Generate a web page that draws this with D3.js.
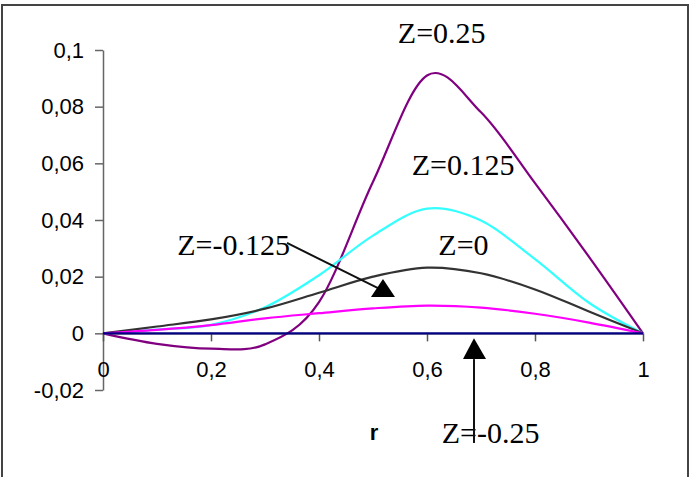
<!DOCTYPE html>
<html>
<head>
<meta charset="utf-8">
<script src="https://cdn.jsdelivr.net/npm/d3@7"></script>
<style>
  html, body { margin: 0; padding: 0; background: #fff; }
  svg { display: block; }
  .tick text { font-family: "Liberation Sans", Arial, sans-serif; font-size: 22px; fill: #000; }
  .zlabel { font-family: "Liberation Serif", "Times New Roman", serif; font-size: 30px; fill: #000; }
</style>
</head>
<body>
<svg id="chart" width="691" height="477"></svg>
<script>
// r positions of the computed points
const rValues = [0, 0.1, 0.2, 0.3, 0.4, 0.5, 0.6, 0.7, 0.8, 0.9, 1];
// one series per Z level
const zMinus025 = [0, 0, 0, 0, 0, 0, 0, 0, 0, 0, 0];
const zMinus0125 = [0, 0.0012, 0.0029, 0.0053, 0.0071, 0.0088, 0.0098, 0.0091, 0.0069, 0.0038, 0];
const z0 = [0, 0.0024, 0.0049, 0.0087, 0.0143, 0.0200, 0.0232, 0.0212, 0.0155, 0.0077, 0];
const z0125 = [0, 0.0013, 0.0030, 0.0092, 0.0205, 0.0345, 0.0440, 0.0398, 0.0262, 0.0108, 0];
const z025 = [0, -0.0037, -0.0054, -0.0039, 0.0110, 0.0535, 0.0910, 0.0780, 0.0530, 0.0270, 0];

const yTickValues = [-0.02, 0, 0.02, 0.04, 0.06, 0.08, 0.1];
const yTickLabels = ['-0,02', '0', '0,02', '0,04', '0,06', '0,08', '0,1'];
const xTickValues = [0, 0.2, 0.4, 0.6, 0.8, 1];
const xTickLabels = ['0', '0,2', '0,4', '0,6', '0,8', '1'];

const series = [
  {name: 'Z=-0.25', values: zMinus025, color: '#000080'},
  {name: 'Z=-0.125', values: zMinus0125, color: '#ff00ff'},
  {name: 'Z=0', values: z0, color: '#333333'},
  {name: 'Z=0.125', values: z0125, color: '#33ffff'},
  {name: 'Z=0.25', values: z025, color: '#800080'}
];

const svg = d3.select('#chart');

// outer frame (bottom edge runs past the picture)
svg.append('rect')
  .attr('x', 2).attr('y', 5)
  .attr('width', 686).attr('height', 490)
  .attr('fill', 'none')
  .attr('stroke', '#444')
  .attr('stroke-width', 2);

const x = d3.scaleLinear().domain([0, 1]).range([103, 643]);
const y = d3.scaleLinear().domain([-0.02, 0.1]).range([390, 50]);

// y axis
const yAxis = svg.append('g')
  .attr('transform', 'translate(' + x(0) + ',0)')
  .call(d3.axisLeft(y)
    .tickValues(yTickValues)
    .tickFormat((d, i) => yTickLabels[i])
    .tickSize(8)
    .tickSizeOuter(0)
    .tickPadding(11));
yAxis.select('.domain').attr('stroke', '#666').attr('stroke-width', 1.5);
yAxis.selectAll('.tick line').attr('stroke', '#666').attr('stroke-width', 1.5);

// x axis, crossing at 0
const xAxis = svg.append('g')
  .attr('transform', 'translate(0,' + y(0) + ')')
  .call(d3.axisBottom(x)
    .tickValues(xTickValues)
    .tickFormat((d, i) => xTickLabels[i])
    .tickSize(8)
    .tickSizeOuter(0)
    .tickPadding(20));
xAxis.select('.domain').attr('stroke', '#666').attr('stroke-width', 1.5);
xAxis.selectAll('.tick line').attr('stroke', '#555').attr('stroke-width', 1.5);

// axis title
svg.append('text')
  .attr('x', x(0.502))
  .attr('y', y(-0.0376))
  .attr('text-anchor', 'middle')
  .style('font-family', '"Liberation Sans", Arial, sans-serif')
  .style('font-size', '22px')
  .style('font-weight', 'bold')
  .text('r');

// smoothed lines (uniform spline, like the spreadsheet's smoothing)
const line = d3.line()
  .x((d, i) => x(rValues[i]))
  .y(d => y(d))
  .curve(d3.curveCatmullRom.alpha(0));

svg.append('g').selectAll('path')
  .data(series.slice().reverse())
  .enter().append('path')
  .attr('d', d => line(d.values))
  .attr('fill', 'none')
  .attr('stroke', d => d.color)
  .attr('stroke-width', 2.2);

// curve labels
const labels = [
  {text: 'Z=0.25', r: 0.546, v: 0.1025},
  {text: 'Z=0.125', r: 0.5717, v: 0.0559},
  {text: 'Z=0', r: 0.621, v: 0.0276},
  {text: 'Z=-0.125', r: 0.1376, v: 0.0276},
  {text: 'Z=-0.25', r: 0.6272, v: -0.0388}
];
svg.append('g').selectAll('text')
  .data(labels)
  .enter().append('text')
  .attr('class', 'zlabel')
  .attr('x', d => x(d.r))
  .attr('y', d => y(d.v))
  .text(d => d.text);

// arrows pointing at the Z=-0.125 and Z=-0.25 curves
const arrows = [
  {from: [0.3407, 0.0319], to: [0.513, 0.0156],
   head: [[0.5185, 0.0192], [0.4963, 0.0128], [0.5407, 0.0128]]},
  {from: [0.687, -0.0387], to: [0.687, -0.0091],
   head: [[0.687, -0.0017], [0.6667, -0.0091], [0.7093, -0.0091]]}
];
const ag = svg.append('g');
arrows.forEach(a => {
  ag.append('line')
    .attr('x1', x(a.from[0])).attr('y1', y(a.from[1]))
    .attr('x2', x(a.to[0])).attr('y2', y(a.to[1]))
    .attr('stroke', '#111')
    .attr('stroke-width', 2);
  ag.append('polygon')
    .attr('points', a.head.map(p => x(p[0]) + ',' + y(p[1])).join(' '))
    .attr('fill', '#000');
});
</script>
</body>
</html>
